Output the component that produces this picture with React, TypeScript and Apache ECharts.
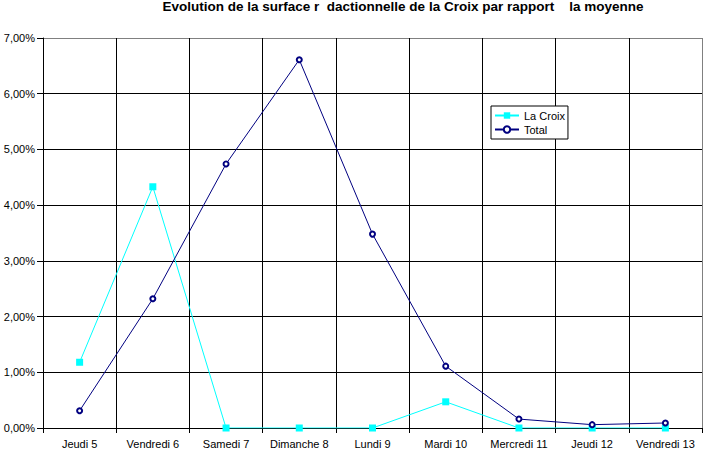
import React, { useEffect, useRef } from "react";
import * as echarts from "echarts";

const categories = [
  "Jeudi 5",
  "Vendredi 6",
  "Samedi 7",
  "Dimanche 8",
  "Lundi 9",
  "Mardi 10",
  "Mercredi 11",
  "Jeudi 12",
  "Vendredi 13",
];

// Shares in percent
const laCroix = [1.18, 4.33, 0, 0, 0, 0.47, 0, 0, 0];
const total = [0.31, 2.32, 4.74, 6.61, 3.48, 1.11, 0.16, 0.06, 0.09];

const yTicks = [0, 1, 2, 3, 4, 5, 6, 7];

const titleText =
  "Evolution de la surface r  dactionnelle de la Croix par rapport    la moyenne";

const FONT = "'Liberation Sans', Arial, Helvetica, sans-serif";

export default function App() {
  const ref = useRef<HTMLDivElement>(null);

  useEffect(() => {
    if (!ref.current) return;
    const chart = echarts.init(ref.current, null, { renderer: "svg" });
    const fmt = (v: number) => v.toFixed(2).replace(".", ",") + "%";
    const yColors = yTicks.map((t, i) => (i === yTicks.length - 1 ? "#808080" : "#000000"));
    const xColors = [...categories.map(() => "#000000"), "#808080"];

    chart.setOption({
      animation: false,
      backgroundColor: "#ffffff",
      textStyle: { fontFamily: FONT },
      title: {
        text: titleText,
        left: 403,
        textAlign: "center",
        top: -1,
        padding: 0,
        textStyle: { fontFamily: FONT, fontSize: 13.5, fontWeight: "bold", color: "#000" },
      },
      legend: {
        orient: "vertical",
        left: 491,
        top: 106,
        backgroundColor: "#ffffff",
        borderColor: "#000000",
        borderWidth: 1,
        padding: [4, 3, 4, 3],
        itemGap: 3,
        itemWidth: 24,
        itemHeight: 8,
        textStyle: { fontFamily: FONT, fontSize: 11, color: "#000" },
        data: ["La Croix", "Total"],
      },
      grid: { left: 43, right: 2, top: 38, bottom: 23, containLabel: false },
      xAxis: {
        type: "category",
        data: categories,
        boundaryGap: true,
        axisLine: { lineStyle: { color: "#000", width: 1 } },
        axisTick: { show: true, interval: 0, length: 5, lineStyle: { color: "#000" } },
        axisLabel: { interval: 0, margin: 10, fontSize: 11, color: "#000", fontFamily: FONT },
        splitLine: { show: true, interval: 0, lineStyle: { color: xColors, width: 1 } },
      },
      yAxis: {
        type: "value",
        min: 0,
        max: 7,
        interval: 1,
        axisLine: { show: true, lineStyle: { color: "#000", width: 1 } },
        axisTick: { show: true, length: 6, lineStyle: { color: "#000" } },
        axisLabel: { formatter: fmt, fontSize: 11, color: "#000", margin: 8, fontFamily: FONT },
        splitLine: { show: true, lineStyle: { color: yColors, width: 1 } },
      },
      series: [
        {
          name: "La Croix",
          type: "line",
          data: laCroix,
          symbol: "rect",
          symbolSize: 7,
          itemStyle: { color: "#00ffff" },
          lineStyle: { color: "#00ffff", width: 1 },
        },
        {
          name: "Total",
          type: "line",
          data: total,
          symbol: "emptyCircle",
          symbolSize: 5,
          itemStyle: { color: "#000080", borderColor: "#000080", borderWidth: 1.5 },
          lineStyle: { color: "#000080", width: 1 },
        },
      ],
    });
    return () => chart.dispose();
  }, []);

  return (
    <div
      ref={ref}
      style={{ position: "fixed", left: 0, top: 0, width: 704, height: 451 }}
    />
  );
}
